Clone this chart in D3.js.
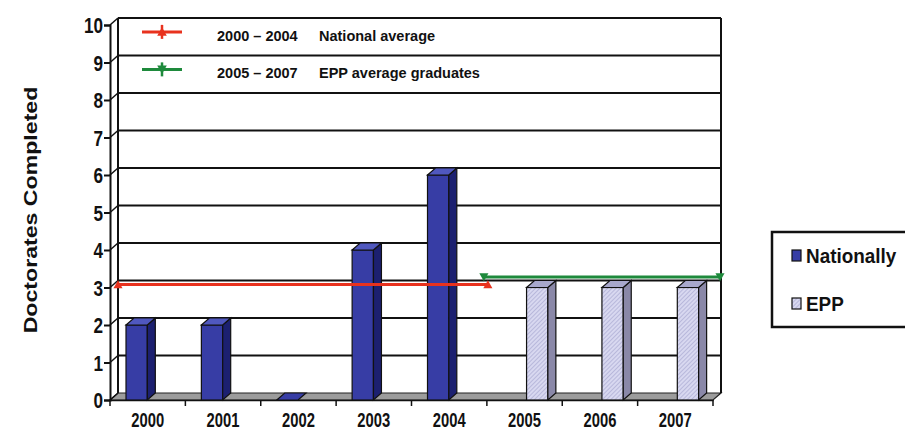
<!DOCTYPE html>
<html><head><meta charset="utf-8">
<script src="https://cdn.jsdelivr.net/npm/d3@7"></script>
<style>body{margin:0;background:#fff}svg{display:block}</style>
</head><body>
<svg id="c" width="905" height="435"></svg>
<script>
const years = ["2000","2001","2002","2003","2004","2005","2006","2007"];
const seriesNames = ["Nationally","EPP"];
const nationally = [2,2,0,4,6,null,null,null];
const epp = [null,null,null,null,null,3,3,3];
const yTicks = [0,1,2,3,4,5,6,7,8,9,10];
const avgLabels = ["2000 – 2004","2005 – 2007"];
const avgNames = ["National average","EPP average graduates"];
const avgValues = [3, 3.2];
const avgRanges = [["2000","2004"],["2005","2007"]];
const avgColors = ["#e8321e","#1e8a3c"];

const FONT = "'Liberation Sans',Arial,sans-serif";
const svg = d3.select("#c");
const defs = svg.append("defs");
const pat = defs.append("pattern").attr("id","hatch").attr("patternUnits","userSpaceOnUse")
  .attr("width",3).attr("height",3).attr("patternTransform","rotate(45)");
pat.append("rect").attr("width",3).attr("height",3).attr("fill","#d8d8f0");
pat.append("line").attr("x1",0).attr("y1",0).attr("x2",0).attr("y2",3).attr("stroke","#9e9ecb").attr("stroke-width",1.1);

const x0 = 110, x1 = 713, base = 400, top10 = 25;
const depthX = 8, depthY = 7;
const x = d3.scaleBand().domain(years).range([x0, x1]).paddingInner(0).paddingOuter(0);
const xs = d3.scaleBand().domain(seriesNames).range([16, 61]).paddingInner(0.1);
const y = d3.scaleLinear().domain([0,10]).range([base, top10]);

// floor
svg.append("polygon")
  .attr("points", [[x0,base],[x1,base],[x1+depthX,base-depthY],[x0+depthX,base-depthY]].join(" "))
  .attr("fill","#9c9c9c").attr("stroke","#222").attr("stroke-width",1.2);

// back wall gridlines
const g = svg.append("g");
yTicks.forEach(v => {
  const yb = y(v) - depthY;
  if (v > 0) g.append("line").attr("x1", x0+depthX).attr("x2", x1+depthX).attr("y1", yb).attr("y2", yb)
    .attr("stroke","#111").attr("stroke-width",2);
  g.append("line").attr("x1", x0).attr("y1", y(v)).attr("x2", x0+depthX).attr("y2", yb)
    .attr("stroke","#111").attr("stroke-width",1.5);
});
g.append("line").attr("x1", x0+depthX).attr("x2", x0+depthX).attr("y1", y(10)-depthY).attr("y2", base-depthY).attr("stroke","#111").attr("stroke-width",2);
g.append("line").attr("x1", x1+depthX).attr("x2", x1+depthX).attr("y1", y(10)-depthY).attr("y2", base-depthY).attr("stroke","#111").attr("stroke-width",2);

// Y axis (front)
const yAxis = d3.axisLeft(y).tickValues(yTicks).tickSize(6).tickPadding(3);
const ya = svg.append("g").attr("transform", `translate(${x0},0)`).call(yAxis);
ya.select(".domain").attr("stroke","#111").attr("stroke-width",2);
ya.selectAll(".tick line").attr("stroke","#111").attr("stroke-width",2);
ya.selectAll(".tick text").attr("font-family",FONT)
  .attr("font-weight","bold").attr("font-size",22).attr("fill","#111").attr("dy","0.36em")
  .attr("transform","scale(0.78,1)");

// X axis (front)
const xAxis = d3.axisBottom(x).tickSize(0).tickPadding(15);
const xa = svg.append("g").attr("transform", `translate(0,${base})`).call(xAxis);
xa.select(".domain").attr("stroke","#111").attr("stroke-width",1.5);
xa.selectAll(".tick text").attr("font-family",FONT)
  .attr("font-weight","bold").attr("font-size",20).attr("fill","#111")
  .attr("dy","0.62em").attr("transform","scale(0.74,1)");
const boundaries = years.map(d => x(d)).concat([x1]);
xa.selectAll(".bnd").data(boundaries).enter().append("line")
  .attr("x1", d=>d).attr("x2", d=>d).attr("y1",0).attr("y2",6).attr("stroke","#111").attr("stroke-width",1.5);

// bars
const styles = {
  Nationally: {front:"#373da5", side:"#1c2070", top:"#5058bf"},
  EPP: {front:"url(#hatch)", side:"#8a88a8", top:"#a8a8cc"}
};
const bars = [];
years.forEach((yr,i) => {
  if (nationally[i] != null) bars.push({yr, s:"Nationally", v:nationally[i]});
  if (epp[i] != null) bars.push({yr, s:"EPP", v:epp[i]});
});
const bg = svg.append("g");
bars.forEach(b => {
  const bx = x(b.yr) + xs(b.s), w = xs.bandwidth(), yt = y(b.v), st = styles[b.s];
  const sw = 1.2;
  if (b.v > 0) {
    bg.append("rect").attr("x",bx).attr("y",yt).attr("width",w).attr("height",base-yt)
      .attr("fill",st.front).attr("stroke","#111").attr("stroke-width",sw);
    bg.append("polygon").attr("points",[[bx+w,yt],[bx+w+depthX,yt-depthY],[bx+w+depthX,base-depthY],[bx+w,base]].join(" "))
      .attr("fill",st.side).attr("stroke","#111").attr("stroke-width",sw);
  }
  bg.append("polygon").attr("points",[[bx,yt],[bx+depthX,yt-depthY],[bx+w+depthX,yt-depthY],[bx+w,yt]].join(" "))
    .attr("fill", b.v > 0 ? st.top : st.front).attr("stroke","#111").attr("stroke-width",sw);
});

// average lines
const startOff = [8, -3], endOff = [1, 7];
avgValues.forEach((v,i) => {
  const xa0 = x(avgRanges[i][0]) + startOff[i];
  const xa1 = x(avgRanges[i][1]) + x.bandwidth() + endOff[i];
  const yy = y(v) - 3;
  svg.append("line").attr("x1",xa0).attr("x2",xa1).attr("y1",yy).attr("y2",yy)
    .attr("stroke",avgColors[i]).attr("stroke-width",3.2);
  [xa0, xa1].forEach(px => {
    svg.append("path").attr("d", d3.symbol().type(d3.symbolTriangle).size(36)())
      .attr("transform", `translate(${px},${yy + (i===0?1:-1)}) rotate(${i===0?0:180})`)
      .attr("fill",avgColors[i]);
  });
});

// legend inside plot
const legY = [y(9.55)-depthY, y(8.55)-depthY];
avgValues.forEach((v,i) => {
  const ly = legY[i];
  svg.append("line").attr("x1",142).attr("x2",182).attr("y1",ly-3).attr("y2",ly-3).attr("stroke",avgColors[i]).attr("stroke-width",3);
  svg.append("path").attr("d", d3.symbol().type(d3.symbolTriangle).size(40)())
    .attr("transform", `translate(162,${ly-3 + (i===0?1:-1)}) rotate(${i===0?0:180})`).attr("fill",avgColors[i]);
  svg.append("line").attr("x1",162).attr("x2",162).attr("y1",ly-10).attr("y2",ly+4).attr("stroke",avgColors[i]).attr("stroke-width",2.5);
  svg.append("text").attr("x",217).attr("y",ly+6).text(avgLabels[i])
    .attr("font-family",FONT).attr("font-weight","bold").attr("font-size",14.5).attr("fill","#111");
  svg.append("text").attr("x",319).attr("y",ly+6).text(avgNames[i])
    .attr("font-family",FONT).attr("font-weight","bold").attr("font-size",14.5).attr("fill","#111");
});

// y title
svg.append("text").attr("transform","translate(37,210) rotate(-90) scale(1.25,1)").attr("text-anchor","middle")
  .text("Doctorates Completed").attr("font-family",FONT)
  .attr("font-weight","bold").attr("font-size",18.5).attr("fill","#111");

// right legend
const lg = svg.append("g");
lg.append("rect").attr("x",772).attr("y",232).attr("width",150).attr("height",95)
  .attr("fill","#fff").attr("stroke","#111").attr("stroke-width",2.5);
const legFill = ["#373da5","url(#hatch)"];
seriesNames.forEach((s,i) => {
  const cy = 256 + i*48;
  lg.append("rect").attr("x",792).attr("y",cy-6).attr("width",9).attr("height",11)
    .attr("fill",legFill[i]).attr("stroke","#111").attr("stroke-width",1.2);
  lg.append("text").attr("transform",`translate(806,${cy+7}) scale(0.9,1)`).text(s)
    .attr("font-family",FONT).attr("font-weight","bold")
    .attr("font-size",21).attr("fill","#111");
});
</script>
</body></html>
